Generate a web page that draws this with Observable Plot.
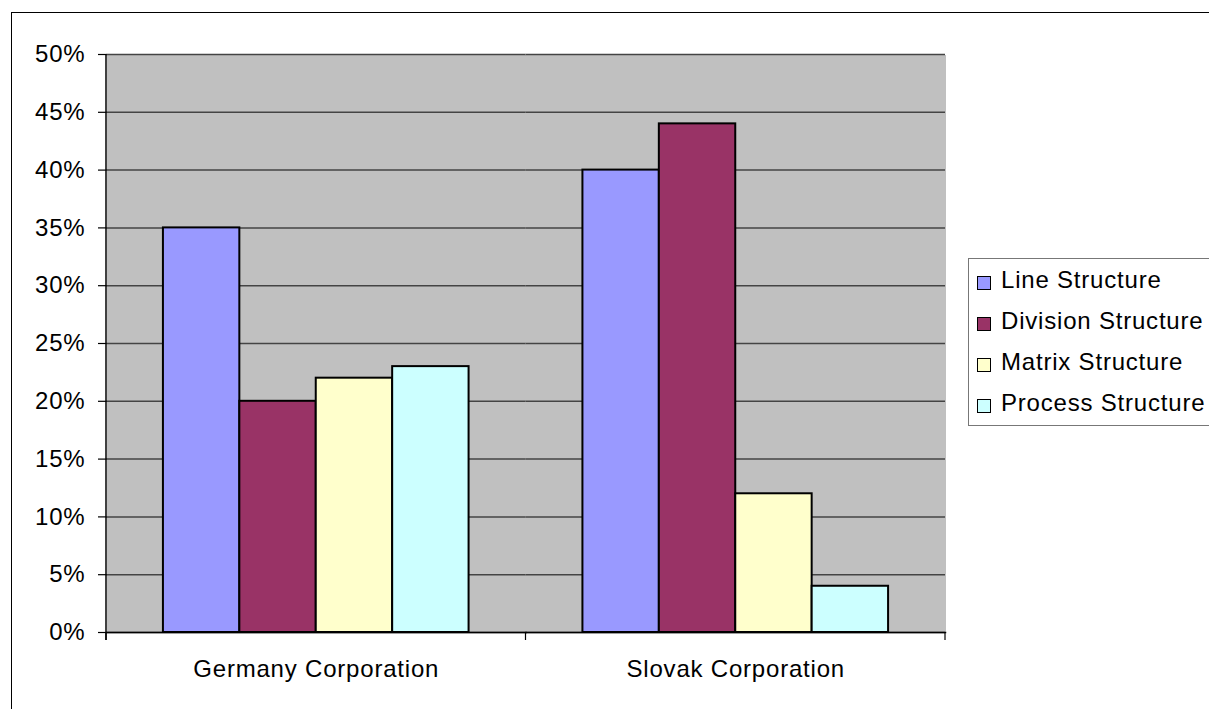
<!DOCTYPE html>
<html><head><meta charset="utf-8">
<script src="https://cdn.jsdelivr.net/npm/d3@7"></script>
<script src="https://cdn.jsdelivr.net/npm/@observablehq/plot@0.6"></script>
<style>
html,body{margin:0;padding:0;background:#fff;overflow:hidden;width:1209px;height:709px;}
#wrap{position:relative;width:1209px;height:709px;font-family:"Liberation Sans",Arial,sans-serif;}
#frame{position:absolute;left:11px;top:12px;width:1400px;height:900px;border:1.5px solid #000;box-sizing:border-box;}
#chart{position:absolute;left:0;top:0;}
#chart svg text{letter-spacing:0.8px;}
#legend{position:absolute;left:968px;top:258px;width:300px;height:168px;border:1px solid #777;box-sizing:border-box;background:#fff;}
.item{position:absolute;left:0;height:30px;font-size:24px;letter-spacing:0.8px;color:#000;white-space:nowrap;}
.sw{position:absolute;left:8px;width:14px;height:14px;border:1.5px solid #000;box-sizing:border-box;}
.lt{position:absolute;left:32px;}
</style></head>
<body><div id="wrap"><div id="frame"></div><div id="chart"></div><div id="legend"></div></div>
<script>
const corps = ["Germany Corporation", "Slovak Corporation"];
const structures = ["Line Structure", "Division Structure", "Matrix Structure", "Process Structure"];
const germanyValues = [0.35, 0.20, 0.22, 0.23];
const slovakValues = [0.40, 0.44, 0.12, 0.04];
const colors = ["#9999FF", "#993366", "#FFFFCC", "#CCFFFF"];
const yTicks = [0, 0.05, 0.10, 0.15, 0.20, 0.25, 0.30, 0.35, 0.40, 0.45, 0.50];

const data = [];
structures.forEach((s, i) => {
  data.push({corp: corps[0], structure: s, value: germanyValues[i]});
  data.push({corp: corps[1], structure: s, value: slovakValues[i]});
});

const plot = Plot.plot({
  width: 1209, height: 709,
  marginLeft: 106, marginRight: 264, marginTop: 54, marginBottom: 77,
  style: {fontFamily: '"Liberation Sans", Arial, sans-serif', fontSize: "24px", background: "transparent", color: "#000", overflow: "visible"},
  fx: {domain: corps, padding: 0, label: null, round: false},
  x: {domain: structures, paddingInner: 0, paddingOuter: 0.745, round: false, axis: null},
  y: {domain: [0, 0.5], label: null},
  color: {domain: structures, range: colors},
  marks: [
    Plot.frame({fill: "#c0c0c0", stroke: null, shapeRendering: "crispEdges"}),
    Plot.ruleY(yTicks, {stroke: "#444", strokeWidth: 1.5}),
    Plot.barY(data, {fx: "corp", x: "structure", y: "value", fill: "structure", stroke: "#000", strokeWidth: 2}),
    Plot.frame({anchor: "bottom", stroke: "#000", strokeWidth: 1.5}),
    Plot.axisY({ticks: yTicks, tickFormat: d3.format(".0%"), tickSize: 8, tickPadding: 13, fontSize: 24, stroke: "#000", strokeWidth: 1.2, label: null}),
    Plot.axisFx({anchor: "bottom", tickSize: 0, tickPadding: 27, fontSize: 24, label: null})
  ]
});
document.getElementById("chart").appendChild(plot);

// axis line and category boundary ticks from the scales
const fx = plot.scale("fx"), y = plot.scale("y");
const svg = d3.select(plot);
const bw = fx.bandwidth;
const x0 = fx.apply(corps[0]);
const yTop = y.apply(0.5), yBot = y.apply(0);
svg.append("line").attr("x1", x0).attr("x2", x0).attr("y1", yTop).attr("y2", yBot + 8).attr("stroke", "#000").attr("stroke-width", 1.5);
const bounds = [x0].concat(corps.map(c => fx.apply(c) + bw));
bounds.forEach(bx => svg.append("line").attr("x1", bx).attr("x2", bx).attr("y1", yBot).attr("y2", yBot + 8).attr("stroke", "#000").attr("stroke-width", 1.2));

// legend
const lg = document.getElementById("legend");
structures.forEach((s, i) => {
  const it = document.createElement("div");
  it.className = "item";
  it.style.top = (7 + i * 41) + "px";
  it.innerHTML = `<div class="sw" style="top:10px;background:${colors[i]}"></div><div class="lt" style="top:0px">${s}</div>`;
  lg.appendChild(it);
});
</script></body></html>
